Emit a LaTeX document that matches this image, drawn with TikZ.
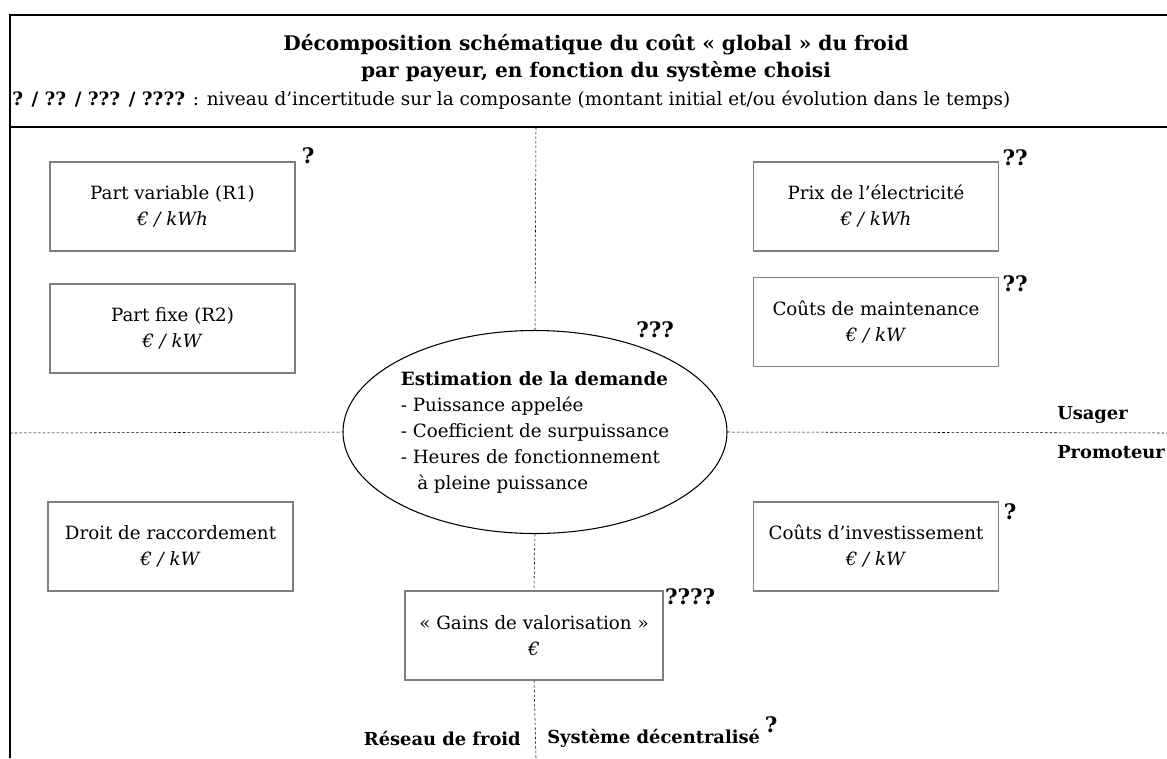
\documentclass[tikz,border=0pt]{standalone}
\usepackage{fontspec}
\setmainfont{DejaVu Serif}
\usepackage{tikz}
\usetikzlibrary{positioning,shapes.geometric}
\definecolor{boxgray}{HTML}{7F7F7F}

\begin{document}
\begin{tikzpicture}[x=0.75pt,y=-0.75pt,
    cost/.style={draw=boxgray,line width=0.8pt,minimum width=183.75pt,minimum height=66.75pt,
                 align=center,font=\fontsize{13.7}{19.5}\selectfont},
    unc/.style={font=\bfseries\fontsize{16}{18}\selectfont,inner sep=0pt},
    sep/.style={line width=0.4pt,dash pattern=on 2pt off 1.5pt},
    lab/.style={font=\bfseries\fontsize{13.4}{15}\selectfont,inner sep=0pt}]
        \useasboundingbox (0,0) rectangle (1167,758);
        \draw[line width=1.1pt] (10,758)--(10,15)--(1167,15);
        \draw[line width=1.1pt] (10,127)--(1167,127);
        \node[font=\bfseries\fontsize{15.1}{20.3}\selectfont,align=center] (title) at (596,58)
              {Décomposition schématique du coût « global » du froid\\par payeur, en fonction du système choisi};
        \node[anchor=west,inner sep=0pt,font=\fontsize{13.8}{15}\selectfont] (legend) at (12,100)
              {\textbf{? / ?? / ??? / ????} : niveau d’incertitude sur la composante (montant initial et/ou évolution dans le temps)};
        % demande au centre
        \node[draw,ellipse,line width=0.8pt,minimum width=288pt,minimum height=152.25pt,inner sep=0pt,
              align=left,font=\fontsize{13.7}{19.5}\selectfont] (dem) at (535,432)
              {\textbf{Estimation de la demande}\\- Puissance appelée\\- Coefficient de surpuissance\\- Heures de fonctionnement\\\hspace*{0.9em}à pleine puissance};
        % composantes
        \node[cost] (r1) at (172.5,206.5) {Part variable (R1)\\\textit{€ / kWh}};
        \node[cost] (r2) at (172.5,328.5) {Part fixe (R2)\\\textit{€ / kW}};
        \node[cost] (elec) at (876,206.5) {Prix de l’électricité\\\textit{€ / kWh}};
        \node[cost] (maint) at (876,322) {Coûts de maintenance\\\textit{€ / kW}};
        \node[cost] (racc) at (170.5,546.5) {Droit de raccordement\\\textit{€ / kW}};
        \node[cost] (inv) at (876,546.5) {Coûts d’investissement\\\textit{€ / kW}};
        \node[cost,minimum width=193.5pt] (gains) at (534,635.5) {« Gains de valorisation »\\\textit{€}};
        % incertitudes
        \node[unc] (q1) at (308,156) {?};
        \node[unc] (q2) at (1015,158) {??};
        \node[unc] (q3) at (1015,284) {??};
        \node[unc] (q4) at (655,330) {???};
        \node[unc] (q5) at (1010,512) {?};
        \node[unc] (q6) at (690,597) {????};
        \node[unc] (q7) at (771,725) {?};
        % payeurs / systemes
        \node[lab,anchor=west] (usa) at (1057,415) {Usager};
        \node[lab,anchor=west] (pro) at (1057,452) {Promoteur};
        \node[lab,anchor=east] (rdf) at (521,738) {Réseau de froid};
        \node[lab,anchor=west] (dec) at (547,738) {Système décentralisé};
        % separations
        \coordinate (vt) at (536,127);
        \coordinate (vb) at (536,758);
        \coordinate (hl) at (10,433);
        \coordinate (hr) at (1167,433);
        \draw[sep] (vt)--(dem.north);
        \draw[sep] (dem.south)--(gains.north);
        \draw[sep] (gains.south)--(vb);
        \draw[sep] (hl)--(dem.west);
        \draw[sep] (dem.east)--(hr);
      \end{tikzpicture}
\end{document}
